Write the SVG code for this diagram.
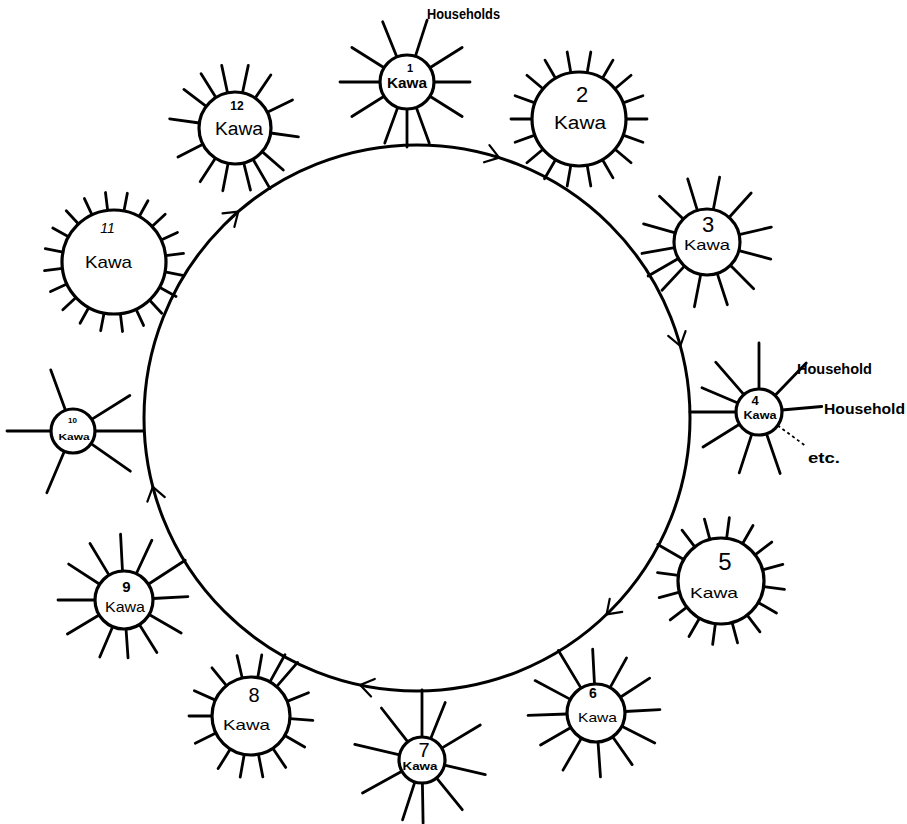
<svg xmlns="http://www.w3.org/2000/svg" width="907" height="824" viewBox="0 0 907 824">
<style>
.ring{fill:none;stroke:#000;stroke-width:3}
.arrow{fill:none;stroke:#000;stroke-width:2.2;stroke-linecap:round;stroke-linejoin:round}
.node circle{fill:#fff;stroke:#000;stroke-width:3.2}
.node line{stroke:#000;stroke-width:2.8;stroke-linecap:round}
.node line.dash{stroke-width:1.8;stroke-dasharray:3 3;stroke-linecap:butt}
text{font-family:"Liberation Sans",Arial,sans-serif;fill:#000;text-anchor:middle}
.lbl{text-anchor:start;font-size:14px;font-weight:bold}
</style>
<defs>
<path id="chev" d="M-13,-9 L0,0 L-13,9"/>
</defs>
<rect width="907" height="824" fill="#fff"/>
<g id="connectors">
<circle class="ring" cx="417" cy="418" r="273"/>
<use href="#chev" class="arrow" transform="translate(499.1,157.6) rotate(17.5)"/>
<use href="#chev" class="arrow" transform="translate(680.3,346) rotate(74.7)"/>
<use href="#chev" class="arrow" transform="translate(606.6,614.4) rotate(136)"/>
<use href="#chev" class="arrow" transform="translate(360.2,685) rotate(192)"/>
<use href="#chev" class="arrow" transform="translate(152.8,486.8) rotate(255.4)"/>
<use href="#chev" class="arrow" transform="translate(238.3,211.6) rotate(319.1)"/>
</g>
<text x="427" y="19" style="text-anchor:start;font-size:14px;font-weight:bold" textLength="73" lengthAdjust="spacingAndGlyphs">Households</text>
<g id="node1" class="node" transform="translate(407,82)">
<line x1="27" x2="65" transform="rotate(-112)"/><line x1="27" x2="65" transform="rotate(-72)"/><line x1="27" x2="65" transform="rotate(-148)"/><line x1="27" x2="65" transform="rotate(-32)"/><line x1="27" x2="67" transform="rotate(180)"/><line x1="27" x2="63" transform="rotate(0)"/><line x1="27" x2="65" transform="rotate(148)"/><line x1="27" x2="65" transform="rotate(32)"/><line x1="27" x2="65" transform="rotate(110)"/><line x1="27" x2="65" transform="rotate(70)"/><line x1="27" x2="65" transform="rotate(90)"/>
<circle r="27"/>
<text x="3" y="-10" style="font-size:11px;font-weight:bold">1</text>
<text x="0" y="6" style="font-size:14px;font-weight:bold" textLength="40" lengthAdjust="spacingAndGlyphs">Kawa</text>
</g>
<g id="node2" class="node" transform="translate(579,119)">
<line x1="47" x2="68" transform="rotate(-100)"/><line x1="47" x2="68" transform="rotate(-80)"/><line x1="47" x2="68" transform="rotate(-60)"/><line x1="47" x2="68" transform="rotate(-40)"/><line x1="47" x2="68" transform="rotate(-20)"/><line x1="47" x2="68" transform="rotate(0)"/><line x1="47" x2="68" transform="rotate(20)"/><line x1="47" x2="68" transform="rotate(40)"/><line x1="47" x2="68" transform="rotate(60)"/><line x1="47" x2="68" transform="rotate(80)"/><line x1="47" x2="68" transform="rotate(100)"/><line x1="47" x2="69" transform="rotate(120)"/><line x1="47" x2="68" transform="rotate(140)"/><line x1="47" x2="68" transform="rotate(160)"/><line x1="47" x2="68" transform="rotate(180)"/><line x1="47" x2="68" transform="rotate(200)"/><line x1="47" x2="68" transform="rotate(220)"/><line x1="47" x2="68" transform="rotate(240)"/>
<circle r="47"/>
<text x="3" y="-17" style="font-size:22px">2</text>
<text x="1" y="10" style="font-size:18px" textLength="52" lengthAdjust="spacingAndGlyphs">Kawa</text>
</g>
<g id="node3" class="node" transform="translate(707,242)">
<line x1="33" x2="66" transform="rotate(-107)"/><line x1="33" x2="66" transform="rotate(-79)"/><line x1="33" x2="66" transform="rotate(-48)"/><line x1="33" x2="66" transform="rotate(-136)"/><line x1="33" x2="66" transform="rotate(-164)"/><line x1="33" x2="66" transform="rotate(-13)"/><line x1="33" x2="66" transform="rotate(15)"/><line x1="33" x2="66" transform="rotate(170)"/><line x1="33" x2="66" transform="rotate(133)"/><line x1="33" x2="66" transform="rotate(101)"/><line x1="33" x2="66" transform="rotate(72)"/><line x1="33" x2="66" transform="rotate(45)"/><line x1="33" x2="68" transform="rotate(150)"/>
<circle r="33"/>
<text x="1" y="-10" style="font-size:22px">3</text>
<text x="0" y="8" style="font-size:15px" textLength="46" lengthAdjust="spacingAndGlyphs">Kawa</text>
</g>
<g id="node4" class="node" transform="translate(759,412)">
<line x1="23" x2="69" transform="rotate(-90)"/><line x1="23" x2="66" transform="rotate(-131)"/><line x1="23" x2="62" transform="rotate(-157)"/><line x1="23" x2="69" transform="rotate(180)"/><line x1="23" x2="66" transform="rotate(148)"/><line x1="23" x2="64" transform="rotate(108)"/><line x1="23" x2="65" transform="rotate(71)"/><line x1="23" x2="63" transform="rotate(-5)"/><line x1="23" x2="68" transform="rotate(-46)"/>
<line class="dash" x1="23" x2="59" transform="rotate(36)"/>
<circle r="23"/>
<text x="-4" y="-7" style="font-size:13px;font-weight:bold">4</text>
<text x="1" y="7" style="font-size:10px;font-weight:bold" textLength="33" lengthAdjust="spacingAndGlyphs">Kawa</text>
</g>
<text class="lbl" x="797" y="374" textLength="75" lengthAdjust="spacingAndGlyphs">Household</text>
<text class="lbl" x="824" y="414" textLength="81" lengthAdjust="spacingAndGlyphs">Household</text>
<text class="lbl" x="808" y="463" textLength="32" lengthAdjust="spacingAndGlyphs">etc.</text>
<g id="node5" class="node" transform="translate(721,581)">
<line x1="43" x2="64" transform="rotate(-105)"/><line x1="43" x2="64" transform="rotate(-82.5)"/><line x1="43" x2="64" transform="rotate(-60)"/><line x1="43" x2="64" transform="rotate(-37.5)"/><line x1="43" x2="64" transform="rotate(-15)"/><line x1="43" x2="64" transform="rotate(7.5)"/><line x1="43" x2="64" transform="rotate(30)"/><line x1="43" x2="64" transform="rotate(52.5)"/><line x1="43" x2="64" transform="rotate(75)"/><line x1="43" x2="64" transform="rotate(97.5)"/><line x1="43" x2="64" transform="rotate(120)"/><line x1="43" x2="64" transform="rotate(142.5)"/><line x1="43" x2="64" transform="rotate(165)"/><line x1="43" x2="64" transform="rotate(187.5)"/><line x1="43" x2="64" transform="rotate(232.5)"/><line x1="43" x2="73" transform="rotate(210)"/>
<circle r="43"/>
<text x="4" y="-11" style="font-size:24px">5</text>
<text x="-7" y="17" style="font-size:15px" textLength="48" lengthAdjust="spacingAndGlyphs">Kawa</text>
</g>
<g id="node6" class="node" transform="translate(596,713)">
<line x1="29" x2="64" transform="rotate(-93)"/><line x1="29" x2="63" transform="rotate(-61)"/><line x1="29" x2="64" transform="rotate(-33)"/><line x1="29" x2="64" transform="rotate(-3)"/><line x1="29" x2="66" transform="rotate(27)"/><line x1="29" x2="63" transform="rotate(55)"/><line x1="29" x2="64" transform="rotate(86)"/><line x1="29" x2="66" transform="rotate(120)"/><line x1="29" x2="64" transform="rotate(150)"/><line x1="29" x2="68" transform="rotate(178)"/><line x1="29" x2="69" transform="rotate(-152)"/><line x1="29" x2="73" transform="rotate(-121)"/>
<circle r="29"/>
<text x="-3" y="-15" style="font-size:14px;font-weight:bold">6</text>
<text x="1.5" y="9" style="font-size:13px" textLength="39" lengthAdjust="spacingAndGlyphs">Kawa</text>
</g>
<g id="node7" class="node" transform="translate(422,760)">
<line x1="23" x2="70" transform="rotate(-90)"/><line x1="23" x2="62" transform="rotate(-68)"/><line x1="23" x2="66" transform="rotate(-128)"/><line x1="23" x2="68" transform="rotate(-31)"/><line x1="23" x2="69" transform="rotate(-167)"/><line x1="23" x2="65" transform="rotate(13)"/><line x1="23" x2="68" transform="rotate(151)"/><line x1="23" x2="63" transform="rotate(108)"/><line x1="23" x2="63" transform="rotate(89)"/><line x1="23" x2="64" transform="rotate(51)"/>
<circle r="23"/>
<text x="2" y="-3" style="font-size:20px">7</text>
<text x="-2" y="10" style="font-size:11px;font-weight:bold" textLength="35" lengthAdjust="spacingAndGlyphs">Kawa</text>
</g>
<g id="node8" class="node" transform="translate(251,716)">
<line x1="39" x2="62" transform="rotate(-103)"/><line x1="39" x2="62" transform="rotate(-80)"/><line x1="39" x2="62" transform="rotate(-22)"/><line x1="39" x2="62" transform="rotate(4)"/><line x1="39" x2="62" transform="rotate(30)"/><line x1="39" x2="62" transform="rotate(56)"/><line x1="39" x2="62" transform="rotate(79)"/><line x1="39" x2="62" transform="rotate(100)"/><line x1="39" x2="62" transform="rotate(122)"/><line x1="39" x2="62" transform="rotate(154)"/><line x1="39" x2="62" transform="rotate(180)"/><line x1="39" x2="62" transform="rotate(-156)"/><line x1="39" x2="62" transform="rotate(-129)"/><line x1="39" x2="70" transform="rotate(-61)"/><line x1="39" x2="71" transform="rotate(-49)"/>
<circle r="39"/>
<text x="3" y="-14" style="font-size:20px">8</text>
<text x="-4.5" y="14" style="font-size:15px" textLength="47" lengthAdjust="spacingAndGlyphs">Kawa</text>
</g>
<g id="node9" class="node" transform="translate(124,600)">
<line x1="29" x2="66" transform="rotate(-93)"/><line x1="29" x2="66" transform="rotate(-121)"/><line x1="29" x2="66" transform="rotate(-65)"/><line x1="29" x2="66" transform="rotate(-147)"/><line x1="29" x2="66" transform="rotate(180)"/><line x1="29" x2="64" transform="rotate(-3)"/><line x1="29" x2="66" transform="rotate(149)"/><line x1="29" x2="66" transform="rotate(30)"/><line x1="29" x2="62" transform="rotate(113)"/><line x1="29" x2="58" transform="rotate(86)"/><line x1="29" x2="62" transform="rotate(58)"/><line x1="29" x2="73" transform="rotate(-33)"/>
<circle r="29"/>
<text x="2.5" y="-8" style="font-size:15px;font-weight:bold">9</text>
<text x="1" y="12" style="font-size:15px" textLength="40" lengthAdjust="spacingAndGlyphs">Kawa</text>
</g>
<g id="node10" class="node" transform="translate(73,431)">
<line x1="22" x2="65" transform="rotate(-110)"/><line x1="22" x2="66" transform="rotate(180)"/><line x1="22" x2="67" transform="rotate(113)"/><line x1="22" x2="67" transform="rotate(-32)"/><line x1="22" x2="71" transform="rotate(0)"/><line x1="22" x2="70" transform="rotate(35)"/>
<circle r="22"/>
<text x="-0.5" y="-8" style="font-size:8px;font-weight:bold">10</text>
<text x="1" y="9" style="font-size:9px;font-weight:bold" textLength="31" lengthAdjust="spacingAndGlyphs">Kawa</text>
</g>
<g id="node11" class="node" transform="translate(114,262)">
<line x1="52" x2="70" transform="rotate(-97)"/><line x1="52" x2="70" transform="rotate(-79)"/><line x1="52" x2="70" transform="rotate(-61)"/><line x1="52" x2="70" transform="rotate(-43)"/><line x1="52" x2="70" transform="rotate(-25)"/><line x1="52" x2="70" transform="rotate(-7)"/><line x1="52" x2="70" transform="rotate(11)"/><line x1="52" x2="71" transform="rotate(29)"/><line x1="52" x2="70" transform="rotate(47)"/><line x1="52" x2="70" transform="rotate(65)"/><line x1="52" x2="70" transform="rotate(83)"/><line x1="52" x2="70" transform="rotate(101)"/><line x1="52" x2="70" transform="rotate(119)"/><line x1="52" x2="70" transform="rotate(137)"/><line x1="52" x2="70" transform="rotate(155)"/><line x1="52" x2="70" transform="rotate(173)"/><line x1="52" x2="70" transform="rotate(191)"/><line x1="52" x2="70" transform="rotate(209)"/><line x1="52" x2="70" transform="rotate(227)"/><line x1="52" x2="70" transform="rotate(245)"/>
<circle r="52"/>
<text x="-6.5" y="-29" style="font-size:14px;font-style:italic">11</text>
<text x="-5.5" y="6" style="font-size:17px" textLength="47" lengthAdjust="spacingAndGlyphs">Kawa</text>
</g>
<g id="node12" class="node" transform="translate(235,128)">
<line x1="36" x2="64" transform="rotate(-102)"/><line x1="36" x2="64" transform="rotate(-78)"/><line x1="36" x2="64" transform="rotate(-56)"/><line x1="36" x2="64" transform="rotate(-122)"/><line x1="36" x2="64" transform="rotate(-143)"/><line x1="36" x2="64" transform="rotate(-26)"/><line x1="36" x2="66" transform="rotate(-172)"/><line x1="36" x2="64" transform="rotate(8)"/><line x1="36" x2="64" transform="rotate(153)"/><line x1="36" x2="64" transform="rotate(41)"/><line x1="36" x2="64" transform="rotate(123)"/><line x1="36" x2="64" transform="rotate(101)"/><line x1="36" x2="64" transform="rotate(76)"/><line x1="36" x2="70" transform="rotate(60)"/>
<circle r="36"/>
<text x="2" y="-18" style="font-size:12px;font-weight:bold">12</text>
<text x="4" y="7" style="font-size:18px" textLength="48" lengthAdjust="spacingAndGlyphs">Kawa</text>
</g>
</svg>
